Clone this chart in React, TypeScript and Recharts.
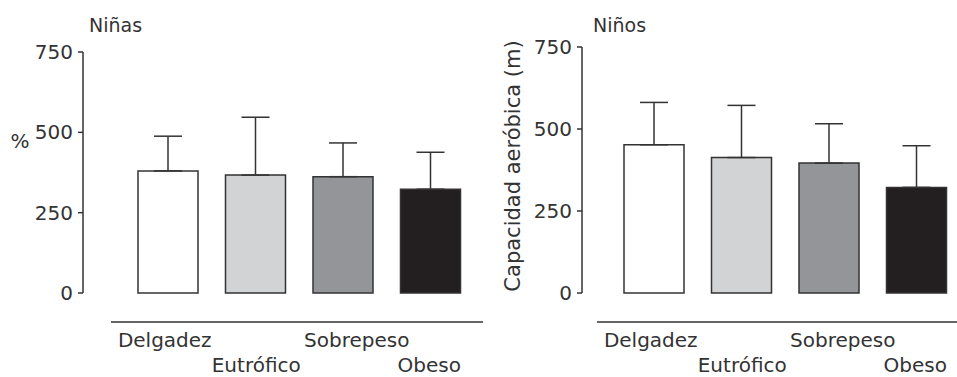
import React from 'react';
import { BarChart, Bar, XAxis, YAxis, ErrorBar, Cell } from 'recharts';

const categories = ['Delgadez', 'Eutrófico', 'Sobrepeso', 'Obeso'];
const ninasMean = [380, 367, 362, 323];
const ninasSD = [108, 180, 105, 115];
const ninosMean = [452, 413, 396, 322];
const ninosSD = [129, 159, 120, 127];
const yTicks = [0, 250, 500, 750];
const barColors = ['#ffffff', '#d1d3d4', '#939598', '#231f20'];

const FONT = '"DejaVu Sans", sans-serif';
const INK = '#333333';

const buildRows = (means: number[], sds: number[]) =>
  categories.map((c, i) => ({ name: c, mean: means[i], err: [0, sds[i]] }));

const labelShift = [-3, 1, 14, -1];

const CatTick = (props: any) => {
  const { x, y, payload } = props;
  const i = payload.index ?? props.index ?? 0;
  const row = i % 2;
  return (
    <text
      x={x + labelShift[i]}
      y={y + (row ? 43 : 18)}
      textAnchor="middle"
      dominantBaseline="central"
      fontFamily={FONT}
      fontSize={20}
      fill={INK}
    >
      {payload.value}
    </text>
  );
};

type PanelProps = {
  means: number[];
  sds: number[];
  width: number;
  top: number;
  mainW: number;
  padW: number;
  xPad: { left: number; right: number };
};

const Panel = ({ means, sds, width, top, mainW, padW, xPad }: PanelProps) => {
  const data = buildRows(means, sds);
  return (
    <BarChart
      width={width}
      height={377}
      data={data}
      margin={{ top, right: 0, bottom: 0, left: 0 }}
      barCategoryGap={0}
    >
      <XAxis
        xAxisId="a"
        dataKey="name"
        type="category"
        height={29}
        axisLine={false}
        tickLine={false}
        tick={false}
        padding={xPad}
      />
      <XAxis
        xAxisId="b"
        dataKey="name"
        type="category"
        height={55}
        axisLine={{ stroke: INK, strokeWidth: 1.5 }}
        tickLine={false}
        tickSize={0}
        tickMargin={0}
        interval={0}
        tick={<CatTick />}
        padding={xPad}
      />
      <YAxis
        yAxisId="ya"
        width={padW}
        domain={[0, 750]}
        axisLine={false}
        tickLine={false}
        tick={false}
      />
      <YAxis
        yAxisId="yb"
        width={mainW}
        domain={[0, 750]}
        ticks={yTicks}
        interval={0}
        tickSize={5}
        tickMargin={5}
        axisLine={{ stroke: INK, strokeWidth: 1.5 }}
        tickLine={{ stroke: INK, strokeWidth: 1.5 }}
        tick={{ fill: INK, fontSize: 20, fontFamily: FONT }}
      />
      <Bar
        dataKey="mean"
        xAxisId="a"
        yAxisId="yb"
        barSize={60}
        stroke={INK}
        strokeWidth={1.5}
        isAnimationActive={false}
      >
        {data.map((d, i) => (
          <Cell key={d.name} fill={barColors[i]} />
        ))}
        <ErrorBar
          dataKey="err"
          direction="y"
          width={14}
          stroke={INK}
          strokeWidth={1.5}
          isAnimationActive={false}
        />
      </Bar>
    </BarChart>
  );
};

export default function App() {
  return (
    <div
      style={{
        position: 'absolute',
        left: 0,
        top: 0,
        width: 957,
        height: 377,
        overflow: 'hidden',
        background: '#ffffff',
        fontFamily: FONT,
      }}
    >
      <div style={{ position: 'absolute', left: 0, top: 0 }}>
        <Panel
          means={ninasMean}
          sds={ninasSD}
          width={483}
          top={52}
          mainW={83}
          padW={28}
          xPad={{ left: 13, right: 9 }}
        />
      </div>
      <div style={{ position: 'absolute', left: 480, top: 0 }}>
        <Panel
          means={ninosMean}
          sds={ninosSD}
          width={480}
          top={47}
          mainW={102}
          padW={15}
          xPad={{ left: 13, right: 0 }}
        />
      </div>
      <svg
        width={957}
        height={377}
        style={{ position: 'absolute', left: 0, top: 0, pointerEvents: 'none' }}
      >
        <text x={89} y={25} dominantBaseline="central" fontFamily={FONT} fontSize={19} fill={INK}>
          Niñas
        </text>
        <text x={593} y={25} dominantBaseline="central" fontFamily={FONT} fontSize={19} fill={INK}>
          Niños
        </text>
        <text x={20} y={141} textAnchor="middle" dominantBaseline="central" fontFamily={FONT} fontSize={20} fill={INK}>
          %
        </text>
        <text
          x={513}
          y={166}
          textAnchor="middle"
          dominantBaseline="central"
          fontFamily={FONT}
          fontSize={21}
          fill={INK}
          transform="rotate(-90 513 166)"
        >
          Capacidad aeróbica (m)
        </text>
      </svg>
    </div>
  );
}
